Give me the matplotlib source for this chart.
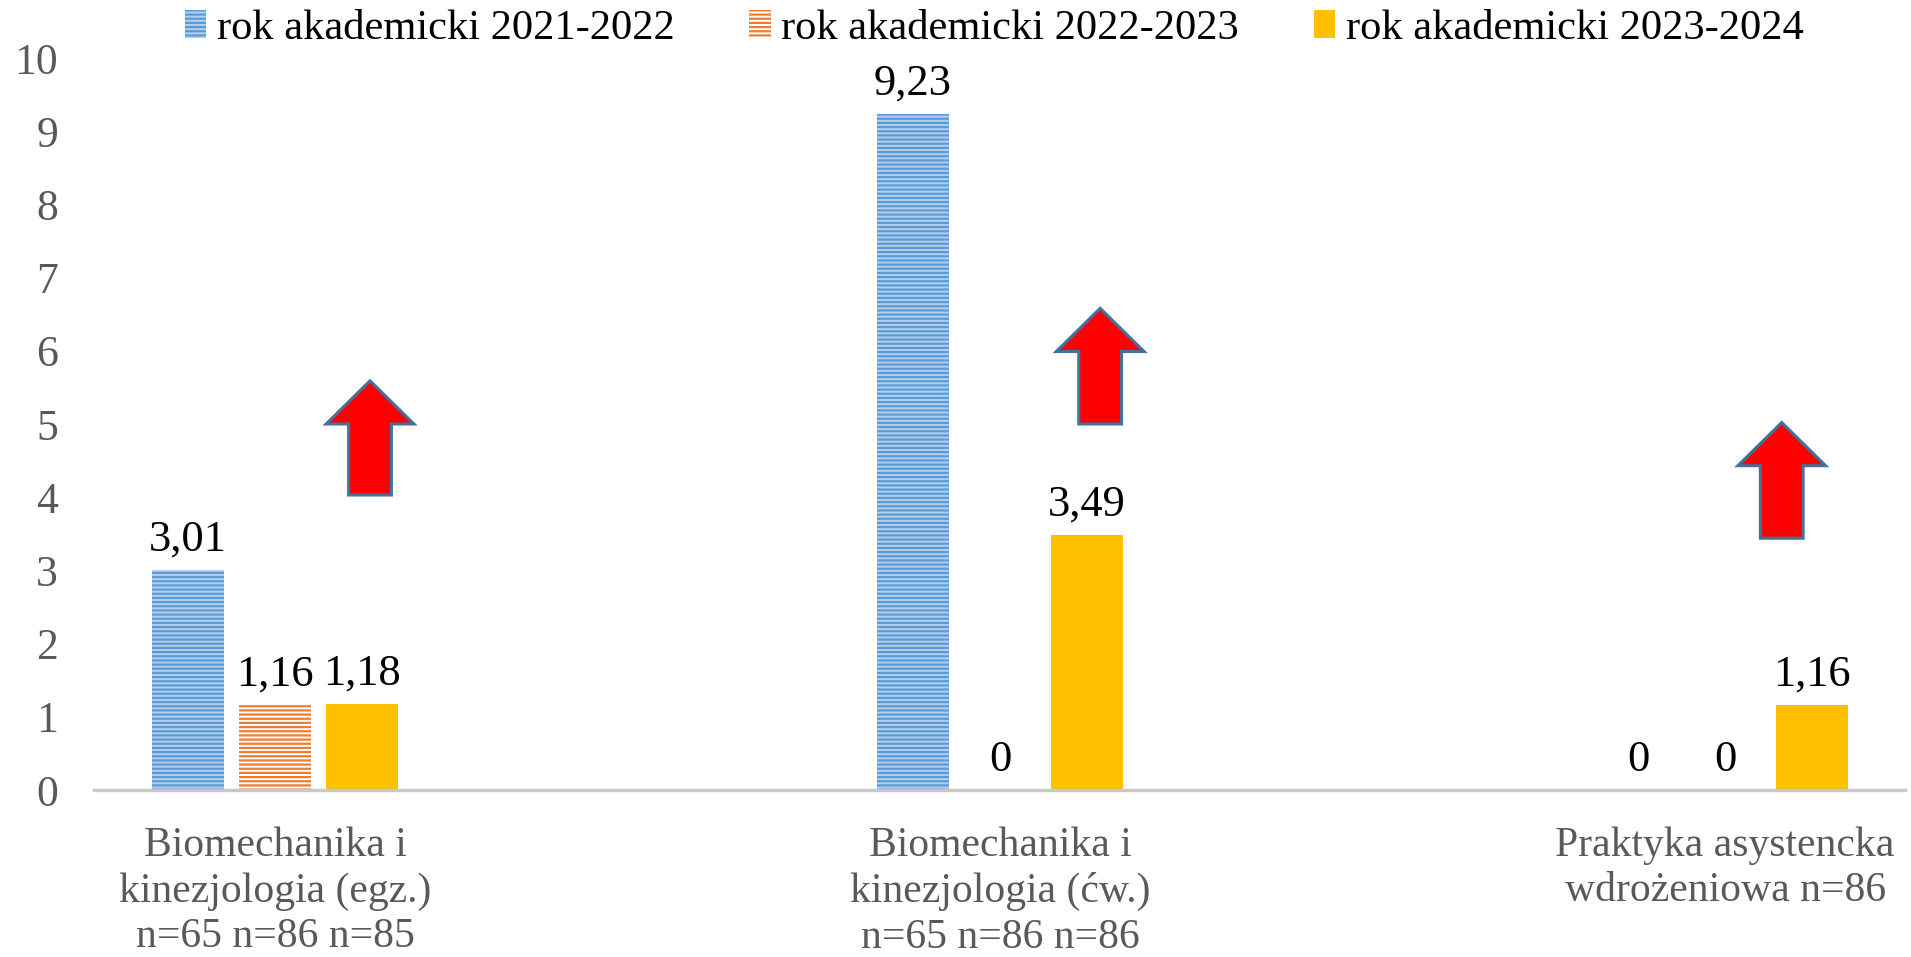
import matplotlib
matplotlib.use("Agg")
import matplotlib.pyplot as plt
from matplotlib.patches import Polygon
import numpy as np

# ---- data ----
categories = ["Biomechanika i\nkinezjologia (egz.)\nn=65 n=86 n=85",
              "Biomechanika i\nkinezjologia (ćw.)\nn=65 n=86 n=86",
              "Praktyka asystencka\nwdrożeniowa n=86"]
series_names = ["rok akademicki 2021-2022",
                "rok akademicki 2022-2023",
                "rok akademicki 2023-2024"]
values_2021 = [3.01, 9.23, 0]
values_2022 = [1.16, 0, 0]
values_2023 = [1.18, 3.49, 1.16]
y_ticks = [0, 1, 2, 3, 4, 5, 6, 7, 8, 9, 10]

# arrows (annotation): x centre, bottom, top in data units
arrow_x = [0.131, 1.138, 2.078]
arrow_bottom = [4.03, 5.00, 3.44]
arrow_top = [5.59, 6.58, 5.02]

plt.rcParams['font.family'] = ['Liberation Serif', 'DejaVu Serif']
plt.rcParams['hatch.linewidth'] = 1.6

fig = plt.figure(figsize=(19.11, 9.57), dpi=100)
ax = fig.add_axes([94/1911, 1-790/957, (1905-94)/1911, (790-58)/957])

x = np.arange(len(categories))
offset = 0.12
width = 0.099

styles = [
    dict(facecolor='#b4d0ee', edgecolor='#5b9bd5', hatch='----'),
    dict(facecolor='#ffffff', edgecolor='#ed7d31', hatch='----'),
    dict(facecolor='#ffc000', edgecolor='#ffc000', hatch=None),
]
all_vals = [values_2021, values_2022, values_2023]
handles = []
for i, (vals, st) in enumerate(zip(all_vals, styles)):
    bars = ax.bar(x + (i - 1) * offset, vals, width, label=series_names[i],
                  facecolor=st['facecolor'], edgecolor=st['edgecolor'],
                  hatch=st['hatch'], linewidth=0)
    handles.append(bars)
    for xi, v in zip(x + (i - 1) * offset, vals):
        ax.annotate(f"{v:.2f}".replace('.', ',') if v != 0 else "0",
                    xy=(xi, v), xytext=(0, 14), textcoords='offset points',
                    ha='center', va='baseline', fontsize=32, color='black')

# arrows
head_w = 0.121
shaft_w = 0.059
head_h = 0.59
for cx, yb, yt in zip(arrow_x, arrow_bottom, arrow_top):
    hb = yt - head_h
    pts = [(cx - shaft_w/2, yb), (cx + shaft_w/2, yb), (cx + shaft_w/2, hb),
           (cx + head_w/2, hb), (cx, yt), (cx - head_w/2, hb),
           (cx - shaft_w/2, hb)]
    ax.add_patch(Polygon(pts, closed=True, facecolor='#ff0000',
                         edgecolor='#41719c', linewidth=2.2, zorder=5))

ax.set_xlim(-0.2497, 2.248)
ax.set_ylim(0, 10)
ax.set_yticks(y_ticks)
ax.set_yticklabels([str(t) for t in y_ticks])
ax.set_xticks(x)
ax.set_xticklabels(categories, linespacing=1.25)
ax.tick_params(axis='y', length=0, pad=26, labelsize=31.5, labelcolor='#595959')
ax.tick_params(axis='x', length=0, pad=26, labelsize=30, labelcolor='#595959')
for s in ['top', 'right', 'left']:
    ax.spines[s].set_visible(False)
ax.spines['bottom'].set_color('#c8c8c8')
ax.spines['bottom'].set_linewidth(2.5)
ax.patch.set_visible(False)

fig.legend(handles=handles, labels=series_names, loc='upper left',
           bbox_to_anchor=(185/1911, 0.99), ncol=3, frameon=False,
           fontsize=30.6, handlelength=0.5, handleheight=0.65,
           handletextpad=0.25, columnspacing=1.76, borderpad=0,
           borderaxespad=0)

fig.savefig("out.png", dpi=100)
